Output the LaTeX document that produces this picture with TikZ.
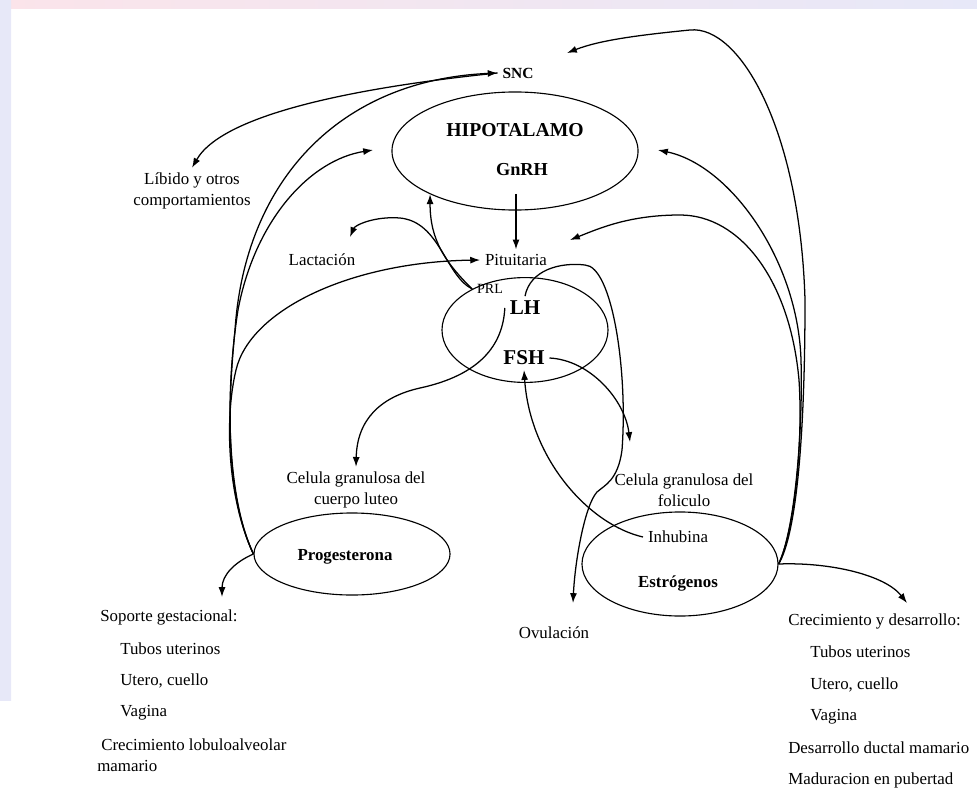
\documentclass[tikz,border=0pt]{standalone}
\usepackage{fontspec}
\setmainfont{Liberation Serif}
\usetikzlibrary{shapes.geometric,arrows.meta}

\definecolor{bgpink}{HTML}{FBE4EA}
\definecolor{bgpeach}{HTML}{FDEFE6}
\definecolor{bglav}{HTML}{E7E8F8}

\begin{document}
\begin{tikzpicture}[x=0.025cm, y=-0.025cm, >={Latex[length=7pt,width=5pt]},
    organ/.style={ellipse, draw, line width=0.8pt, inner sep=0pt},
    lbl/.style={font=\fontsize{12}{15}\selectfont, align=center},
    hormone/.style={font=\fontsize{12}{15}\selectfont\bfseries},
    listtxt/.style={font=\fontsize{12}{15}\selectfont, anchor=west, inner sep=0pt},
    link/.style={->, line width=0.9pt}]

  % slide frame
  \useasboundingbox (0,0) rectangle (977,788);
  \shade[left color=bgpink, middle color=bgpeach, right color=bglav] (0,0) rectangle (977,9);
  \shade[top color=bglav, middle color=bgpink, bottom color=bglav] (0,0) rectangle (11,700);

  % hypothalamus
  \node[organ, minimum width=6.15cm, minimum height=2.95cm] (hipo) at (515,151) {};
  \node[hormone, font=\fontsize{14}{16}\selectfont\bfseries] (hipotxt) at (515,130) {HIPOTALAMO};
  \node[hormone, font=\fontsize{13}{15}\selectfont\bfseries] (gnrh) at (522,170) {GnRH};
  \node[hormone, font=\fontsize{11}{13}\selectfont\bfseries] (snc) at (518,73) {SNC};

  % pituitary
  \node[organ, minimum width=4.15cm, minimum height=2.62cm] (hipof) at (525,330) {};
  \node[lbl] (pit) at (516,260) {Pituitaria};
  \node[lbl, font=\fontsize{10}{12}\selectfont] (prl) at (490,289) {PRL};
  \node[hormone, font=\fontsize{15}{17}\selectfont\bfseries] (lh) at (525,308) {LH};
  \node[hormone, font=\fontsize{15}{17}\selectfont\bfseries] (fsh) at (524,358) {FSH};

  \node[lbl] (lact) at (322,260) {Lactación};
  \node[lbl] (libido) at (192,191) {Líbido y otros\\comportamientos};
  \node[lbl] (luteo) at (356,490) {Celula granulosa del\\cuerpo luteo};
  \node[lbl] (folic) at (684,490) {Celula granulosa del\\foliculo};
  \node[lbl] (ovul) at (554,633) {Ovulación};

  % corpus luteum and follicle
  \node[organ, minimum width=4.9cm, minimum height=2.05cm] (prog) at (352,554) {};
  \node[hormone] (progtxt) at (345,557) {Progesterona};
  \node[organ, minimum width=4.9cm, minimum height=2.6cm] (estr) at (680,564) {};
  \node[lbl] (inhib) at (678,537) {Inhubina};
  \node[hormone] (estrtxt) at (678,583) {Estrógenos};

  % effects
  \node[listtxt] (sop1) at (100,617) {Soporte gestacional:};
  \node[listtxt] (sop2) at (120,649) {Tubos uterinos};
  \node[listtxt] (sop3) at (120,681) {Utero, cuello};
  \node[listtxt] (sop4) at (120,713) {Vagina};
  \node[listtxt] (sop5) at (101,745) {Crecimiento lobuloalveolar};
  \node[listtxt] (sop6) at (97,766) {mamario};

  \node[listtxt] (cre1) at (788,621) {Crecimiento y desarrollo:};
  \node[listtxt] (cre2) at (810,652) {Tubos uterinos};
  \node[listtxt] (cre3) at (810,685) {Utero, cuello};
  \node[listtxt] (cre4) at (810,717) {Vagina};
  \node[listtxt] (cre5) at (788,748) {Desarrollo ductal mamario};
  \node[listtxt] (cre6) at (788,780) {Maduracion en pubertad};

  % arrow tips that stop short
  \coordinate (sncR) at (567,53);
  \coordinate (hipoL) at (373,150);
  \coordinate (hipoR) at (658,150);
  \coordinate (pitR) at (570,240);
  \coordinate (lactTip) at (350,237);
  \coordinate (folTip) at (630,442);
  \coordinate (ovTip) at (573,603);
  \coordinate (sopTip) at (222,597);
  \coordinate (crecTip) at (907,603);

  % progesterone feedback
  \draw[link] (prog.west) .. controls (228,500) and (226,420) .. (235,330)
    .. controls (245,180) and (340,80) .. (snc.west);
  \draw[link] (prog.west) .. controls (228,500) and (224,400) .. (238,310)
    .. controls (255,220) and (310,160) .. (hipoL);
  \draw[link] (prog.west) .. controls (228,500) and (224,420) .. (236,370)
    .. controls (250,310) and (350,262) .. (pit.west);
  \draw[link] (prog.west) .. controls (235,562) and (222,575) .. (sopTip);

  % behaviour
  \draw[link] (snc.west) .. controls (380,85) and (225,110) .. (libido.north);

  % estrogen feedback
  \draw[link] (estr.east) .. controls (796,535) and (805,440) .. (805,300)
    .. controls (800,130) and (740,25) .. (690,30)
    .. controls (640,35) and (600,40) .. (sncR);
  \draw[link] (estr.east) .. controls (795,530) and (803,430) .. (801,360)
    .. controls (798,260) and (730,165) .. (hipoR);
  \draw[link] (estr.east) .. controls (795,530) and (803,440) .. (799,380)
    .. controls (790,280) and (740,215) .. (680,215)
    .. controls (630,215) and (600,228) .. (pitR);
  \draw[link] (estr.east) .. controls (830,562) and (885,575) .. (crecTip);

  % pituitary axis
  \draw[link, shorten <=9pt] (pit.north |- gnrh.south) -- (pit.north);
  \draw[link] (prl.west) .. controls (445,262) and (430,240) .. (hipo.207);
  \draw[link] (prl.west) .. controls (445,275) and (440,222) .. (400,218)
    .. controls (375,216) and (355,225) .. (lactTip);
  \draw[link] (lh.west) .. controls (503,345) and (480,375) .. (420,388)
    .. controls (380,397) and (357,420) .. (luteo.north);
  \draw[link] (lh.north) .. controls (530,270) and (560,262) .. (585,265)
    .. controls (612,266) and (628,370) .. (622,450)
    .. controls (618,480) and (605,485) .. (597,492)
    .. controls (585,505) and (575,560) .. (ovTip);
  \draw[link] (fsh.east) .. controls (590,360) and (625,400) .. (folTip);
  \draw[link] (inhib.west) .. controls (590,525) and (530,460) .. (fsh.south);

\end{tikzpicture}
\end{document}
